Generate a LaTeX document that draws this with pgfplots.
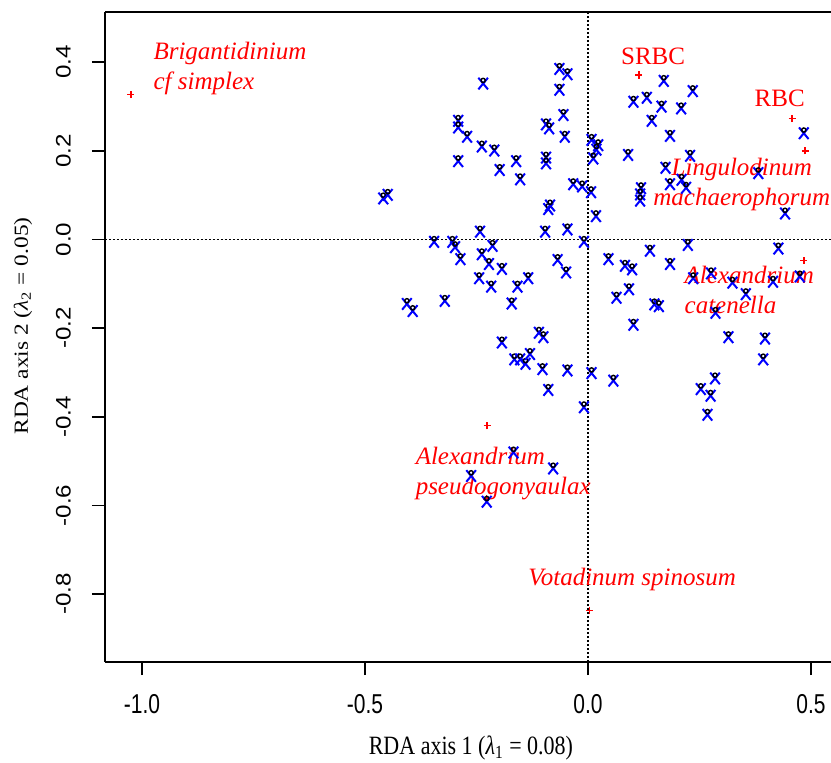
\documentclass[border=0pt]{standalone}
\usepackage{pgfplots}
\pgfplotsset{compat=1.18}
\usepackage{fontspec}
\setmainfont{Liberation Serif}
\setsansfont{Liberation Sans}
\usepackage{graphicx}

\pgfdeclareplotmark{site}{%
  \pgfscope
  \pgfsetlinewidth{1pt}%
  \pgfsetstrokecolor{blue}%
  \pgfpathmoveto{\pgfpoint{-2.4pt}{-3.0pt}}\pgfpathlineto{\pgfpoint{2.4pt}{2.8pt}}%
  \pgfpathmoveto{\pgfpoint{-2.4pt}{2.8pt}}\pgfpathlineto{\pgfpoint{2.4pt}{-3.0pt}}%
  \pgfusepathqstroke
  \pgfsetstrokecolor{black}\pgfsetlinewidth{0.7pt}%
  \pgfpathcircle{\pgfpoint{0pt}{1.5pt}}{1.05pt}%
  \pgfusepathqstroke
  \endpgfscope
}
\pgfdeclareplotmark{redplus}{%
  \pgfscope
  \pgfsetlinewidth{0.75pt}%
  \pgfsetstrokecolor{red}%
  \pgfpathmoveto{\pgfpoint{-1.8pt}{0pt}}\pgfpathlineto{\pgfpoint{1.8pt}{0pt}}%
  \pgfpathmoveto{\pgfpoint{0pt}{-1.8pt}}\pgfpathlineto{\pgfpoint{0pt}{1.8pt}}%
  \pgfusepathqstroke
  \endpgfscope
}

\pgfplotstableread{
x y
-0.064 0.385
-0.046 0.373
-0.064 0.338
-0.235 0.352
-0.055 0.281
-0.291 0.268
-0.291 0.253
-0.271 0.232
-0.094 0.260
-0.087 0.251
-0.052 0.232
-0.238 0.210
-0.210 0.201
-0.291 0.177
-0.161 0.177
-0.094 0.185
-0.094 0.172
-0.198 0.157
-0.152 0.136
-0.459 0.093
-0.449 0.101
-0.033 0.125
-0.013 0.120
0.007 0.107
-0.089 0.069
-0.085 0.077
0.018 0.053
-0.242 0.018
-0.096 0.018
-0.046 0.023
0.008 0.225
0.023 0.213
0.019 0.203
0.012 0.183
0.170 0.358
0.235 0.335
0.102 0.311
0.132 0.320
0.165 0.300
0.209 0.296
0.143 0.268
0.184 0.234
0.484 0.240
0.090 0.191
0.229 0.189
0.174 0.162
0.382 0.150
0.184 0.125
0.210 0.135
0.220 0.117
0.119 0.116
0.117 0.102
0.117 0.088
0.442 0.059
-0.345 -0.005
-0.304 -0.005
-0.298 -0.017
-0.286 -0.044
-0.214 -0.014
-0.238 -0.033
-0.222 -0.055
-0.193 -0.066
-0.244 -0.087
-0.217 -0.106
-0.158 -0.106
-0.134 -0.087
-0.171 -0.144
-0.068 -0.046
-0.049 -0.074
-0.009 -0.005
-0.406 -0.145
-0.393 -0.161
-0.321 -0.138
-0.110 -0.210
-0.100 -0.220
-0.193 -0.232
-0.165 -0.270
-0.152 -0.270
-0.140 -0.280
-0.130 -0.258
-0.102 -0.292
-0.046 -0.295
0.008 -0.301
-0.089 -0.339
-0.009 -0.378
0.046 -0.044
0.083 -0.059
0.099 -0.067
0.139 -0.025
0.184 -0.055
0.224 -0.012
0.092 -0.112
0.064 -0.131
0.149 -0.146
0.159 -0.150
0.102 -0.192
0.236 -0.087
0.276 -0.076
0.324 -0.097
0.354 -0.123
0.415 -0.095
0.427 -0.020
0.475 -0.083
0.286 -0.165
0.315 -0.220
0.397 -0.223
0.393 -0.270
0.057 -0.318
0.285 -0.313
0.253 -0.337
0.275 -0.352
0.268 -0.395
-0.167 -0.480
-0.078 -0.516
-0.262 -0.533
-0.227 -0.591
}\sites

\pgfplotstableread{
x y
-1.025 0.327
0.114 0.371
0.458 0.273
0.487 0.200
0.484 -0.047
-0.226 -0.420
-0.228 -0.585
0.004 -0.837
}\species

\begin{document}
\begin{tikzpicture}
\begin{axis}[
  at={(0,0)}, anchor=south west,
  scale only axis, width=363pt, height=325pt,
  xmin=-1.083, xmax=0.545, ymin=-0.953, ymax=0.513,
  axis lines*=left,
  axis line style={line width=1pt, black},
  xtick={-1,-0.5,0,0.5},
  ytick={-0.8,-0.6,-0.4,-0.2,0,0.2,0.4},
  tick align=outside, major tick length=6.5pt,
  tick style={line width=0.8pt, black},
  /pgf/number format/assume math mode=true,
  /pgf/number format/.cd, fixed, fixed zerofill, precision=1, /pgfplots/.cd,
  ticklabel style={font=\sffamily\fontsize{10.5}{12}\selectfont},
  xticklabel={\scalebox{1}[1.3]{\pgfmathprintnumber{\tick}}},
  yticklabel={\scalebox{1.15}[1]{\pgfmathprintnumber{\tick}}},
  xticklabel style={anchor=north, yshift=-6pt},
  yticklabel style={rotate=90, anchor=south, yshift=7pt},
  xlabel={\scalebox{1}[1.2]{RDA axis 1 (\textit{λ}\textsubscript{1} = 0.08)}},
  ylabel={\scalebox{1.17}[1]{RDA axis 2 (\textit{λ}\textsubscript{2} = 0.05)}},
  xlabel style={at={(axis description cs:0.504,-0.132)}, anchor=center, font=\fontsize{11}{13}\selectfont},
  ylabel style={at={(axis description cs:-0.113,0.517)}, anchor=center, rotate=0, font=\fontsize{10}{12}\selectfont},
  clip=false,
]
\addplot[black, line width=0.9pt, dash pattern=on 0.9pt off 1.1pt] coordinates {(0,-0.953) (0,0.513)};
\addplot[black, line width=0.9pt, dash pattern=on 0.9pt off 1.1pt] coordinates {(-1.083,0) (0.545,0)};
\addplot[only marks, mark=redplus, red] table {\species};
\addplot[only marks, mark=site] table {\sites};
\draw[line width=1pt] (rel axis cs:0,1) -- (rel axis cs:1,1);
\begin{scope}[every node/.style={red, font=\fontsize{12.5}{15}\selectfont}]
\node[anchor=west, align=left, font=\itshape\fontsize{12.5}{15}\selectfont] at (axis cs:-0.990,0.386) {Brigantidinium\\cf simplex};
\node at (axis cs:0.146,0.413) {SRBC};
\node at (axis cs:0.430,0.318) {RBC};
\node[align=center, font=\itshape\fontsize{12.5}{15}\selectfont] at (axis cs:0.345,0.123) {Lingulodinum\\machaerophorum};
\node[anchor=west, align=left, font=\itshape\fontsize{12.5}{15}\selectfont] at (axis cs:0.201,-0.115) {Alexandrium\\catenella};
\node[anchor=west, align=left, font=\itshape\fontsize{12.5}{15}\selectfont] at (axis cs:-0.402,-0.529) {Alexandrium\\pseudogonyaulax};
\node[font=\itshape\fontsize{12.5}{15}\selectfont] at (axis cs:0.099,-0.767) {Votadinum spinosum};
\end{scope}
\end{axis}
\pgfresetboundingbox
\path (-52.5pt,-50pt) rectangle (363pt,331pt);
\end{tikzpicture}
\end{document}
